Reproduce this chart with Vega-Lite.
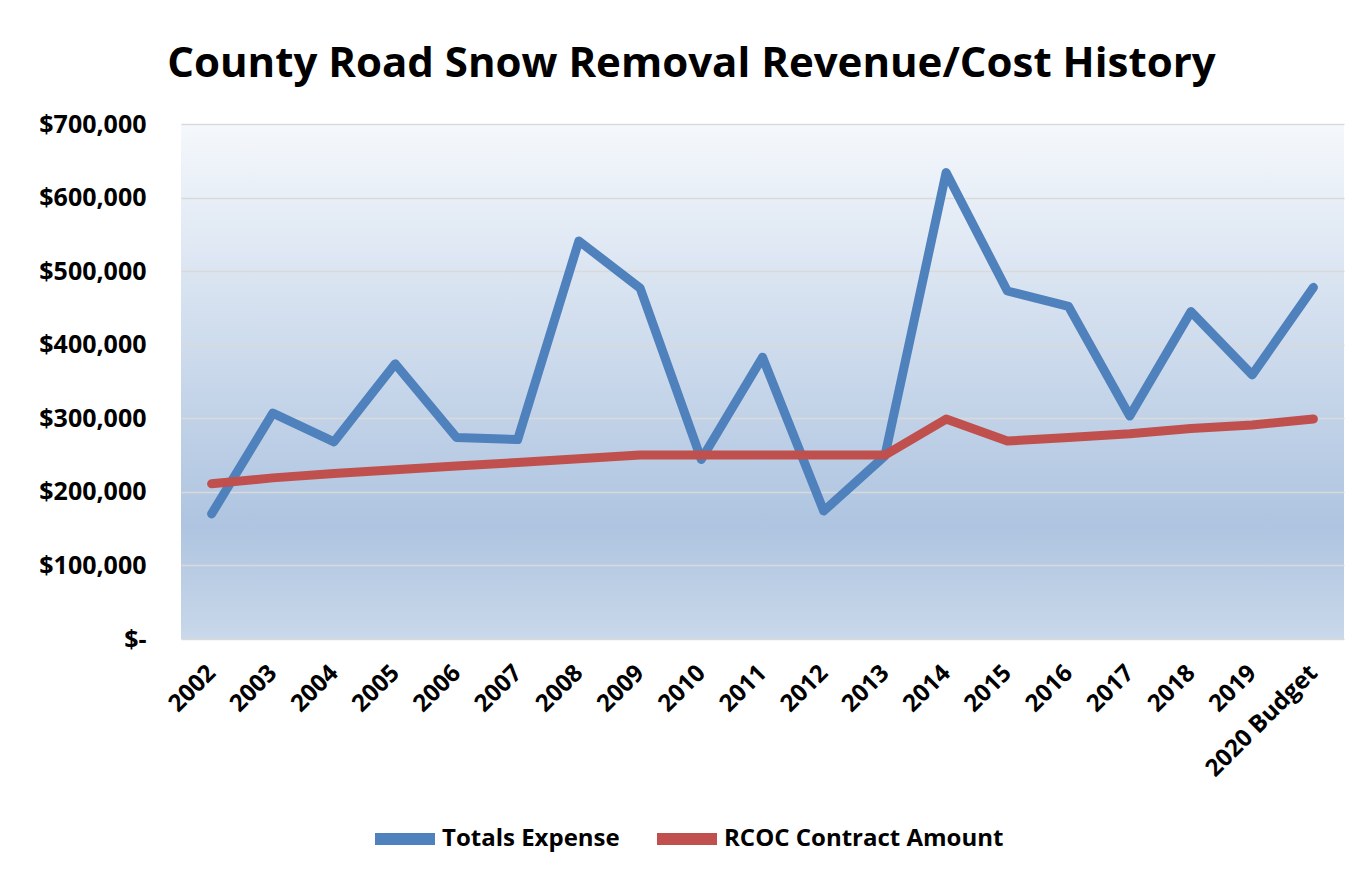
{
  "$schema": "https://vega.github.io/schema/vega-lite/v6.json",
  "width": 1163,
  "height": 515,
  "autosize": {"type": "none"},
  "padding": {"left": 181, "top": 124, "right": 28, "bottom": 235},
  "background": "white",
  "title": {
    "text": "County Road Snow Removal Revenue/Cost History",
    "font": "Open Sans",
    "fontSize": 42,
    "fontWeight": "bold",
    "color": "#000000",
    "anchor": "middle",
    "frame": "bounds",
    "offset": 26
  },
  "config": {
    "view": {
      "stroke": null,
      "fill": {
        "gradient": "linear",
        "x1": 0, "y1": 0, "x2": 0, "y2": 1,
        "stops": [
          {"offset": 0, "color": "#f5f8fc"},
          {"offset": 0.78, "color": "#aec4e0"},
          {"offset": 1, "color": "#c9d8ea"}
        ]
      }
    },
    "font": "Open Sans"
  },
  "data": {
    "values": [
      {"year": "2002", "series": "Totals Expense", "amount": 170000},
      {"year": "2003", "series": "Totals Expense", "amount": 307000},
      {"year": "2004", "series": "Totals Expense", "amount": 268000},
      {"year": "2005", "series": "Totals Expense", "amount": 374000},
      {"year": "2006", "series": "Totals Expense", "amount": 274000},
      {"year": "2007", "series": "Totals Expense", "amount": 271000},
      {"year": "2008", "series": "Totals Expense", "amount": 541000},
      {"year": "2009", "series": "Totals Expense", "amount": 477000},
      {"year": "2010", "series": "Totals Expense", "amount": 244000},
      {"year": "2011", "series": "Totals Expense", "amount": 383000},
      {"year": "2012", "series": "Totals Expense", "amount": 174000},
      {"year": "2013", "series": "Totals Expense", "amount": 249000},
      {"year": "2014", "series": "Totals Expense", "amount": 634000},
      {"year": "2015", "series": "Totals Expense", "amount": 473000},
      {"year": "2016", "series": "Totals Expense", "amount": 452000},
      {"year": "2017", "series": "Totals Expense", "amount": 303000},
      {"year": "2018", "series": "Totals Expense", "amount": 445000},
      {"year": "2019", "series": "Totals Expense", "amount": 359000},
      {"year": "2020 Budget", "series": "Totals Expense", "amount": 478000},
      {"year": "2002", "series": "RCOC Contract Amount", "amount": 211000},
      {"year": "2003", "series": "RCOC Contract Amount", "amount": 219000},
      {"year": "2004", "series": "RCOC Contract Amount", "amount": 225000},
      {"year": "2005", "series": "RCOC Contract Amount", "amount": 230000},
      {"year": "2006", "series": "RCOC Contract Amount", "amount": 235000},
      {"year": "2007", "series": "RCOC Contract Amount", "amount": 240000},
      {"year": "2008", "series": "RCOC Contract Amount", "amount": 245000},
      {"year": "2009", "series": "RCOC Contract Amount", "amount": 250000},
      {"year": "2010", "series": "RCOC Contract Amount", "amount": 250000},
      {"year": "2011", "series": "RCOC Contract Amount", "amount": 250000},
      {"year": "2012", "series": "RCOC Contract Amount", "amount": 250000},
      {"year": "2013", "series": "RCOC Contract Amount", "amount": 250000},
      {"year": "2014", "series": "RCOC Contract Amount", "amount": 299000},
      {"year": "2015", "series": "RCOC Contract Amount", "amount": 269000},
      {"year": "2016", "series": "RCOC Contract Amount", "amount": 274000},
      {"year": "2017", "series": "RCOC Contract Amount", "amount": 279000},
      {"year": "2018", "series": "RCOC Contract Amount", "amount": 286000},
      {"year": "2019", "series": "RCOC Contract Amount", "amount": 291000},
      {"year": "2020 Budget", "series": "RCOC Contract Amount", "amount": 299000}
    ]
  },
  "mark": {"type": "line", "strokeWidth": 9, "strokeCap": "round", "strokeJoin": "round"},
  "encoding": {
    "x": {
      "field": "year",
      "type": "ordinal",
      "sort": null,
      "title": null,
      "scale": {"padding": 0.5},
      "axis": {
        "labelAngle": -45,
        "labelAlign": "right",
        "labelBaseline": "middle",
        "labelFont": "Open Sans",
        "labelFontSize": 24,
        "labelFontWeight": "bold",
        "labelColor": "#000000",
        "labelPadding": 30,
        "labelLimit": 400,
        "ticks": false,
        "domain": false,
        "grid": false
      }
    },
    "y": {
      "field": "amount",
      "type": "quantitative",
      "title": null,
      "scale": {"domain": [0, 700000], "nice": false},
      "axis": {
        "values": [0, 100000, 200000, 300000, 400000, 500000, 600000, 700000],
        "labelExpr": "datum.value === 0 ? '$-' : '$' + format(datum.value, ',')",
        "labelFont": "Open Sans",
        "labelFontSize": 25,
        "labelFontWeight": "bold",
        "labelColor": "#000000",
        "labelPadding": 35,
        "ticks": false,
        "domain": false,
        "grid": true,
        "gridColor": "#d9d9d9",
        "gridWidth": 1.5
      }
    },
    "color": {
      "field": "series",
      "type": "nominal",
      "scale": {
        "domain": ["Totals Expense", "RCOC Contract Amount"],
        "range": ["#4f81bd", "#c0504d"]
      },
      "legend": {
        "title": null,
        "orient": "none",
        "direction": "horizontal",
        "legendX": 188,
        "legendY": 679,
        "symbolType": "stroke",
        "symbolStrokeWidth": 12,
        "symbolSize": 3600,
        "labelFont": "Open Sans",
        "labelFontSize": 24,
        "labelFontWeight": "bold",
        "labelColor": "#000000",
        "labelOffset": 1,
        "labelLimit": 500,
        "columnPadding": 13
      }
    }
  }
}
